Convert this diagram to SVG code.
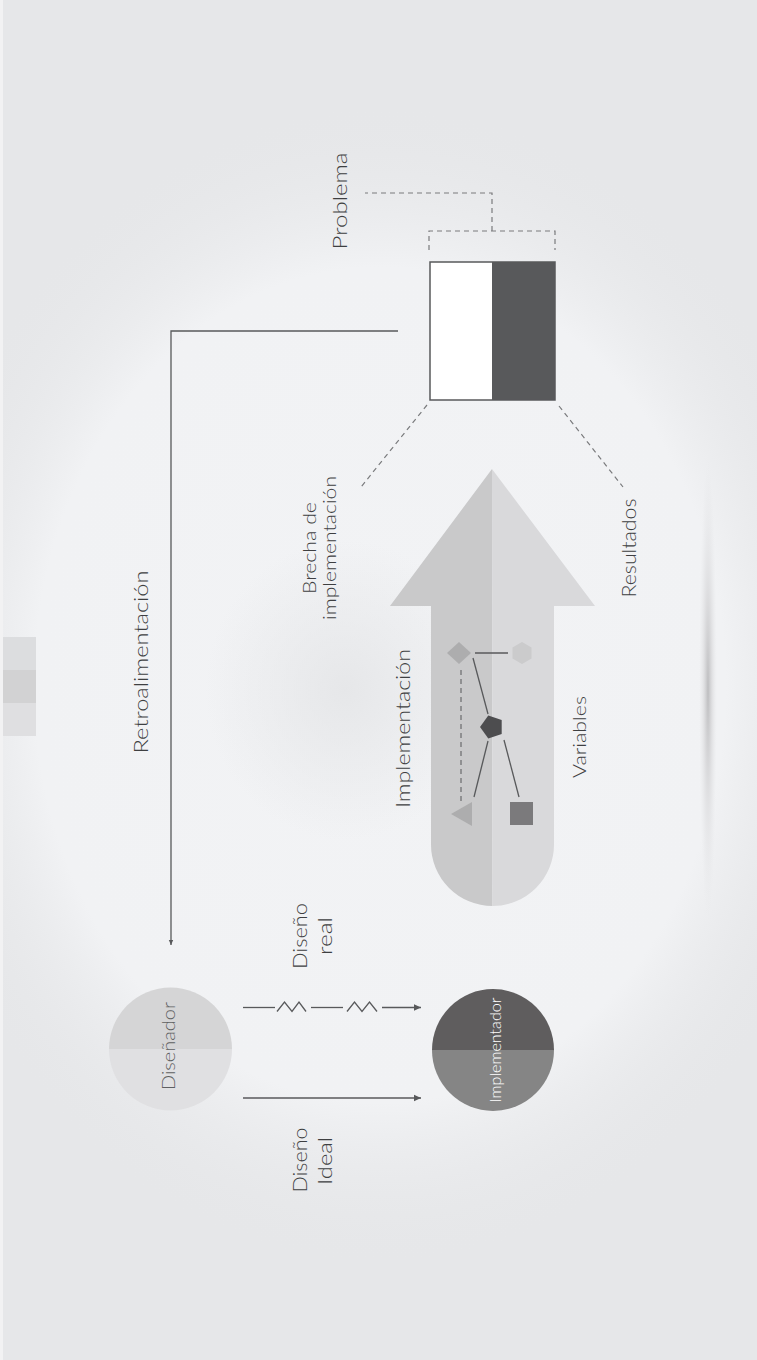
<svg xmlns="http://www.w3.org/2000/svg" width="757" height="1360" viewBox="0 0 757 1360">
<style>
.lbl{font-family:"Lato","Open Sans","Liberation Sans",sans-serif;font-weight:300;fill:#3e3f41;text-anchor:middle}
.ln{stroke:#58595b;stroke-width:1.3;fill:none}
.dash{stroke:#7a7b7d;stroke-width:1.2;fill:none;stroke-dasharray:5 4}
</style>
<defs>
<radialGradient id="bgGlow" cx="0.5" cy="0.5" r="0.5">
<stop offset="0" stop-color="#f2f3f5"/>
<stop offset="0.72" stop-color="#f1f2f4"/>
<stop offset="1" stop-color="#e6e7e9" stop-opacity="0"/>
</radialGradient>
<radialGradient id="blob" cx="0.5" cy="0.5" r="0.5">
<stop offset="0" stop-color="#e3e4e6" stop-opacity="0.8"/>
<stop offset="1" stop-color="#e3e4e6" stop-opacity="0"/>
</radialGradient>
<radialGradient id="shadowV" cx="0.5" cy="0.5" r="0.5">
<stop offset="0" stop-color="#bdbdbf"/>
<stop offset="0.5" stop-color="#d8d8da" stop-opacity="0.6"/>
<stop offset="1" stop-color="#e6e7e9" stop-opacity="0"/>
</radialGradient>
<marker id="ah" markerWidth="8" markerHeight="8" refX="7" refY="4" orient="auto" markerUnits="userSpaceOnUse">
<path d="M0,0.8 L7,4 L0,7.2 Z" fill="#58595b"/>
</marker>
<marker id="ahs" markerWidth="6" markerHeight="6" refX="5" refY="3" orient="auto" markerUnits="userSpaceOnUse">
<path d="M0,0.8 L5,3 L0,5.2 Z" fill="#58595b"/>
</marker>
</defs>

<g id="background">
<rect x="0" y="0" width="757" height="1360" fill="#e6e7e9"/>
<ellipse cx="380" cy="685" rx="480" ry="580" fill="url(#bgGlow)"/>
<ellipse cx="345" cy="690" rx="140" ry="150" fill="url(#blob)"/>
<ellipse cx="708" cy="690" rx="9" ry="230" fill="url(#shadowV)"/>
<rect x="0" y="0" width="3" height="1360" fill="#f2f2f3"/>
</g>

<g id="side-strip">
<rect x="3" y="637" width="33" height="33" fill="#dcdddf"/>
<rect x="3" y="670" width="33" height="33" fill="#d2d2d3"/>
<rect x="3" y="703" width="33" height="33" fill="#dfdfe1"/>
</g>

<g id="big-arrow">
<path d="M492,469 L390,606 L431,606 L431,844.5 A61.5,61.5 0 0 0 492.5,906 Z" fill="#c9c9ca"/>
<path d="M492,469 L595,606 L554,606 L554,844.5 A61.5,61.5 0 0 1 492.5,906 Z" fill="#d9d9db"/>
</g>

<g id="variables">
<line class="ln" x1="475" y1="653" x2="508" y2="653"/>
<line class="ln" x1="473" y1="658" x2="488" y2="714"/>
<line class="ln" x1="488" y1="741" x2="474" y2="797"/>
<line class="ln" x1="504" y1="740" x2="519" y2="797"/>
<line x1="461" y1="670" x2="461" y2="801" stroke="#6a6b6d" stroke-width="1.2" stroke-dasharray="5 4"/>
<polygon id="diamond" points="459,642 471,653 459,664 447,653" fill="#adadae"/>
<polygon id="hexagon" points="522,642 531.5,647.5 531.5,658.5 522,664 512.5,658.5 512.5,647.5" fill="#cbcbcc"/>
<polygon id="pentagon" points="480,727 488.3,715.6 501.7,719.9 501.7,734.1 488.3,738.4" fill="#4d4d4f"/>
<polygon id="triangle" points="451,814 472,802 472,826" fill="#adadae"/>
<rect id="square" x="510" y="802" width="23" height="23" fill="#7b7a7c"/>
</g>

<g id="problema">
<rect x="430" y="262" width="62" height="138" fill="#ffffff"/>
<rect x="492" y="262" width="63" height="138" fill="#58595b"/>
<rect x="430" y="262" width="125" height="138" fill="none" stroke="#58595b" stroke-width="1.5"/>
</g>

<g id="disenador">
<path d="M109,1049 A61.5,61.5 0 0 1 232,1049 Z" fill="#d5d5d6"/>
<path d="M109,1049 A61.5,61.5 0 0 0 232,1049 Z" fill="#e0e0e2"/>
<text class="lbl" transform="translate(175,1046) rotate(-90)" font-size="17" style="fill:#5e5f61" textLength="88" lengthAdjust="spacingAndGlyphs">Diseñador</text>
</g>

<g id="implementador">
<path d="M432,1050 A61,61 0 0 1 554,1050 Z" fill="#5f5d5e"/>
<path d="M432,1050 A61,61 0 0 0 554,1050 Z" fill="#858585"/>
<text class="lbl" transform="translate(500.5,1050) rotate(-90)" font-size="15" style="fill:#ffffff" textLength="105" lengthAdjust="spacingAndGlyphs">Implementador</text>
</g>

<g id="connectors">
<polyline class="ln" points="398,331 171,331 171,945" marker-end="url(#ahs)"/>
<line class="ln" x1="243" y1="1098" x2="421" y2="1098" marker-end="url(#ah)"/>
<polyline class="ln" points="243,1007.5 275,1007.5" />
<polyline class="ln" points="277,1011.5 284.5,1002 292,1011.5 299,1002 306,1011.5"/>
<polyline class="ln" points="311,1007.5 343,1007.5"/>
<polyline class="ln" points="347,1011.5 354.5,1002 362,1011.5 369.5,1002 377,1011.5"/>
<line class="ln" x1="382" y1="1007.5" x2="421" y2="1007.5" marker-end="url(#ah)"/>
<polyline class="dash" points="429,250 429,231 555,231 555,250"/>
<polyline class="dash" points="492,231 492,193 365,193"/>
<line class="dash" x1="427" y1="405" x2="361" y2="487"/>
<line class="dash" x1="559" y1="406" x2="623" y2="487"/>
</g>

<g id="labels">
<text class="lbl" transform="translate(148,662) rotate(-90)" font-size="20" textLength="183" lengthAdjust="spacingAndGlyphs">Retroalimentación</text>
<text class="lbl" transform="translate(316,548) rotate(-90)" font-size="18" textLength="92" lengthAdjust="spacingAndGlyphs">Brecha de</text>
<text class="lbl" transform="translate(335.5,548) rotate(-90)" font-size="18" textLength="144" lengthAdjust="spacingAndGlyphs">implementación</text>
<text class="lbl" transform="translate(347,201) rotate(-90)" font-size="20" textLength="97" lengthAdjust="spacingAndGlyphs">Problema</text>
<text class="lbl" transform="translate(409.5,728.5) rotate(-90)" font-size="20" textLength="159" lengthAdjust="spacingAndGlyphs">Implementación</text>
<text class="lbl" transform="translate(585.5,737) rotate(-90)" font-size="18" textLength="82" lengthAdjust="spacingAndGlyphs">Variables</text>
<text class="lbl" transform="translate(635.5,548) rotate(-90)" font-size="19" textLength="99" lengthAdjust="spacingAndGlyphs">Resultados</text>
<text class="lbl" transform="translate(306.5,936) rotate(-90)" font-size="20" textLength="66" lengthAdjust="spacingAndGlyphs">Diseño</text>
<text class="lbl" transform="translate(331.7,936) rotate(-90)" font-size="20" textLength="38" lengthAdjust="spacingAndGlyphs">real</text>
<text class="lbl" transform="translate(306.5,1160) rotate(-90)" font-size="20" textLength="65" lengthAdjust="spacingAndGlyphs">Diseño</text>
<text class="lbl" transform="translate(332,1161) rotate(-90)" font-size="20" textLength="48" lengthAdjust="spacingAndGlyphs">Ideal</text>
</g>
</svg>
